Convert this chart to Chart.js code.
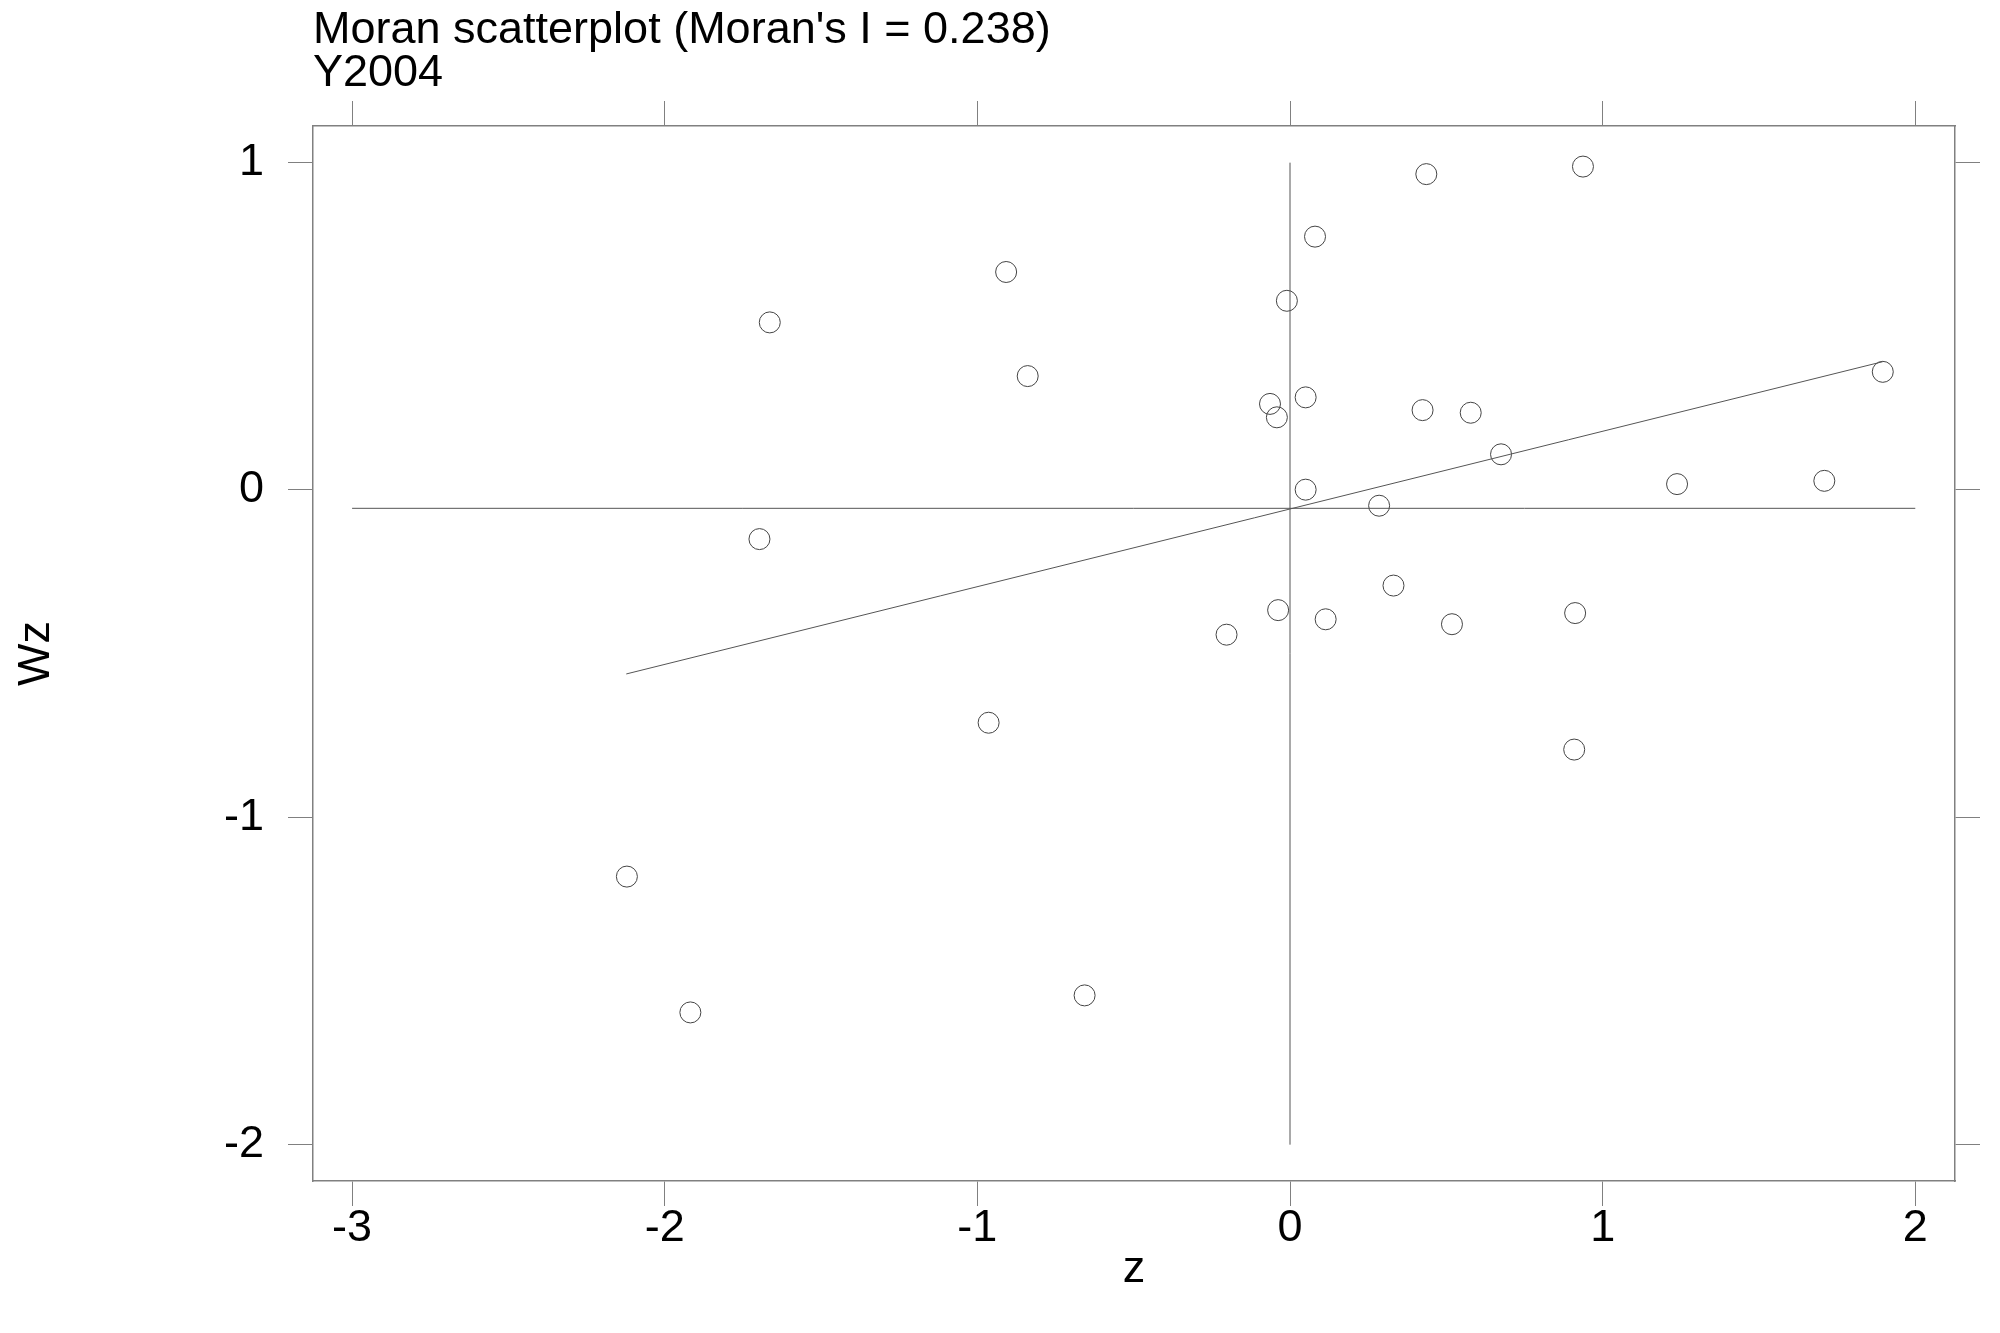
<!DOCTYPE html>
<html>
<head>
<meta charset="utf-8">
<script src="https://cdn.jsdelivr.net/npm/chart.js@4.4.1/dist/chart.umd.min.js"></script>
<style>
  body { margin: 0; background: #fff; }
  canvas { display: block; }
</style>
</head>
<body>
<canvas id="chart" width="2000" height="1333"></canvas>
<script>
const titleLines = ["Moran scatterplot (Moran's I = 0.238)", "Y2004"];

// standardised values (z) and their spatial lag (Wz)
const zVals = [0.436, 0.937, 0.080, -0.010, -0.064, 0.050, -0.042, 0.424, 0.578, 0.675,
  1.238, 0.050, 0.285, 1.709, 0.331, -0.038, 0.114, -0.203, 0.518, 0.912,
  0.909, -0.908, -1.664, -0.839, -1.697, -0.964, -2.121, -1.918, -0.657, 1.896];
const wzVals = [0.965, 0.988, 0.774, 0.578, 0.263, 0.283, 0.222, 0.244, 0.236, 0.109,
  0.018, 0.001, -0.048, 0.028, -0.292, -0.367, -0.395, -0.442, -0.410, -0.376,
  -0.793, 0.666, 0.512, 0.348, -0.150, -0.711, -1.181, -1.596, -1.544, 0.361];

// mean lines and fitted line
const hLineX = [-3, 2];
const hLineY = [-0.056, -0.056];
const vLineX = [0, 0];
const vLineY = [-2, 1];
const fitX = [-2.123, 1.896];
const fitY = [-0.562, 0.392];

const xTicks = [-3, -2, -1, 0, 1, 2];
const yTicks = [-2, -1, 0, 1];

const FONT = '"Liberation Sans", Arial, Helvetica, sans-serif';
const axisGray = "#808080";
const lineGray = "#555555";

function pairs(xs, ys) {
  return xs.map((x, i) => ({ x: x, y: ys[i] }));
}

const titlePlugin = {
  id: "titles",
  afterDraw(chart) {
    const ctx = chart.ctx;
    ctx.save();
    ctx.font = "45px " + FONT;
    ctx.fillStyle = "#000";
    ctx.textBaseline = "alphabetic";
    ctx.textAlign = "left";
    ctx.fillText(titleLines[0], chart.chartArea.left, 43);
    ctx.fillText(titleLines[1], chart.chartArea.left, 86);
    ctx.restore();
  }
};

function axis(pos, min, max, ticks, size, showLabels, title) {
  const horiz = pos === "top" || pos === "bottom";
  return {
    type: "linear",
    position: pos,
    min: min,
    max: max,
    afterBuildTicks: s => { s.ticks = ticks.map(v => ({ value: v })); },
    afterFit: s => { if (horiz) s.height = size; else s.width = size; },
    grid: { drawOnChartArea: false, drawTicks: true, tickLength: 25, color: axisGray, lineWidth: 1 },
    border: { display: true, color: axisGray, width: 1.5 },
    ticks: {
      display: showLabels,
      color: "#000",
      padding: horiz ? 0 : 24,
      maxRotation: 0,
      autoSkip: false,
      font: { family: FONT, size: 45, lineHeight: 1 },
      callback: v => String(v)
    },
    title: title ? {
      display: true,
      text: title,
      color: "#000",
      font: { family: FONT, size: 45, lineHeight: 1.2 },
      padding: horiz ? { top: 0, bottom: 36 } : { top: 10, bottom: 0 }
    } : { display: false }
  };
}

new Chart(document.getElementById("chart"), {
  type: "scatter",
  data: {
    datasets: [
      {
        data: pairs(hLineX, hLineY), showLine: true, pointRadius: 0,
        borderColor: lineGray, borderWidth: 1
      },
      {
        data: pairs(vLineX, vLineY), showLine: true, pointRadius: 0,
        borderColor: lineGray, borderWidth: 1
      },
      {
        data: pairs(fitX, fitY), showLine: true, pointRadius: 0,
        borderColor: lineGray, borderWidth: 1
      },
      {
        data: pairs(zVals, wzVals),
        pointStyle: "circle", pointRadius: 10.5,
        backgroundColor: "rgba(0,0,0,0)", borderColor: "#444", borderWidth: 1
      }
    ]
  },
  options: {
    responsive: false,
    animation: false,
    devicePixelRatio: 1,
    layout: { padding: 0 },
    plugins: { legend: { display: false }, tooltip: { enabled: false } },
    scales: {
      x: axis("bottom", -3.125, 2.127, xTicks, 152, true, "z"),
      x2: axis("top", -3.125, 2.127, xTicks, 126, false, null),
      y: axis("left", -2.111, 1.112, yTicks, 313, true, "Wz"),
      y2: axis("right", -2.111, 1.112, yTicks, 45, false, null)
    }
  },
  plugins: [titlePlugin]
});
</script>
</body>
</html>
